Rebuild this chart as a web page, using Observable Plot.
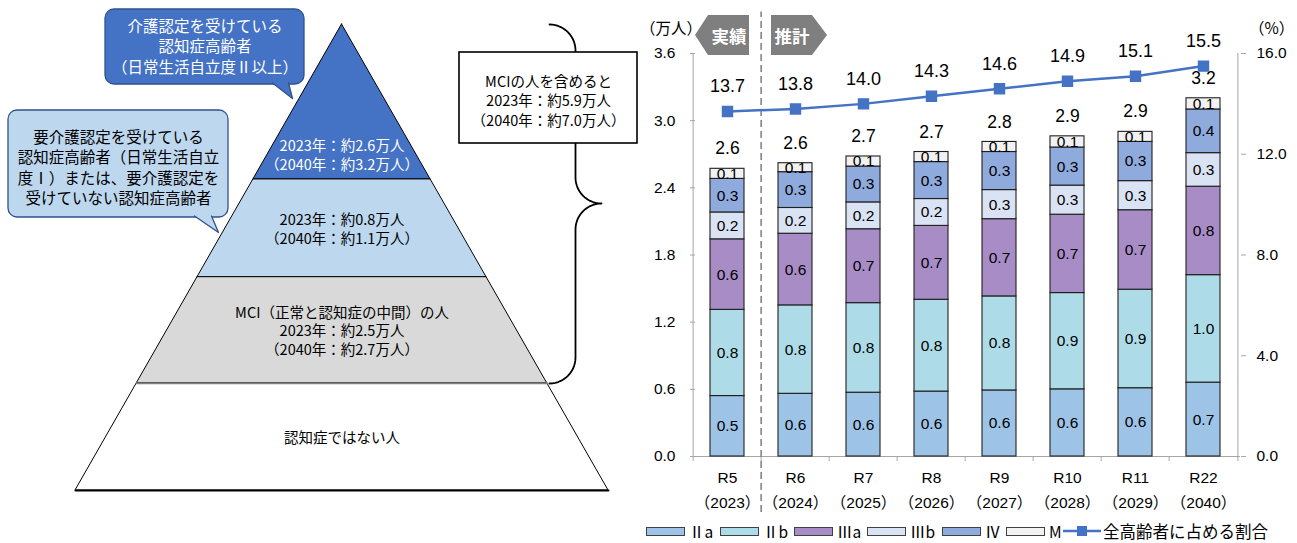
<!DOCTYPE html>
<html><head><meta charset="utf-8">
<script src="https://cdn.jsdelivr.net/npm/d3@7"></script>
<script src="https://cdn.jsdelivr.net/npm/@observablehq/plot@0.6"></script>
<style>
body{margin:0;background:#fff;}
#root{position:relative;width:1297px;height:543px;overflow:hidden;font-family:"Noto Sans CJK JP",sans-serif;color:#000;}
#root svg{position:absolute;top:0;}
.tag{position:absolute;top:15px;height:40px;background:#7f7f7f;color:#fff;font-weight:bold;font-size:17.5px;display:flex;align-items:center;box-sizing:border-box;}
.unit{position:absolute;top:16px;font-size:15.5px;}
.lg{position:absolute;top:523px;height:16px;line-height:16px;white-space:nowrap;font-size:15.5px;}
.lgsw{position:absolute;top:527px;width:37px;height:7px;border:1px solid #404040;}
</style></head><body><div id="root"></div>
<script>
// ---------- data: bar chart ----------
const categories = ["R5", "R6", "R7", "R8", "R9", "R10", "R11", "R22"];
const years = ["2023", "2024", "2025", "2026", "2027", "2028", "2029", "2040"];
const seriesNames = ["Ⅱa", "Ⅱb", "Ⅲa", "Ⅲb", "Ⅳ", "M"];
const valIIa  = [0.54, 0.56, 0.57, 0.58, 0.59, 0.60, 0.61, 0.66];
const valIIb  = [0.77, 0.79, 0.80, 0.82, 0.84, 0.86, 0.88, 0.96];
const valIIIa = [0.63, 0.64, 0.66, 0.66, 0.69, 0.70, 0.71, 0.79];
const valIIIb = [0.24, 0.23, 0.24, 0.24, 0.26, 0.26, 0.26, 0.30];
const valIV   = [0.30, 0.32, 0.32, 0.33, 0.34, 0.34, 0.35, 0.39];
const valM    = [0.09, 0.08, 0.09, 0.09, 0.09, 0.10, 0.09, 0.10];
const ratioPct = [13.7, 13.8, 14.0, 14.3, 14.6, 14.9, 15.1, 15.5];
const leftTicks = [0, 0.6, 1.2, 1.8, 2.4, 3.0, 3.6];
const rightTicks = [0, 4, 8, 12, 16];
const ratioLabel = "全高齢者に占める割合";

// ---------- data: pyramid diagram ----------
const tierTexts = [
  "2023年：約2.6万人\n（2040年：約3.2万人）",
  "2023年：約0.8万人\n（2040年：約1.1万人）",
  "MCI（正常と認知症の中間）の人\n2023年：約2.5万人\n（2040年：約2.7万人）",
  "認知症ではない人"
];
const calloutDark = "介護認定を受けている\n認知症高齢者\n（日常生活自立度Ⅱ以上）";
const calloutLight = "要介護認定を受けている\n認知症高齢者（日常生活自立\n度Ⅰ）または、要介護認定を\n受けていない認知症高齢者";
const mciBoxText = "MCIの人を含めると\n2023年：約5.9万人\n（2040年：約7.0万人）";

// ---------- styles / layout ----------
const seriesColors = ["#9DC3E6", "#ADDCE8", "#A88CC6", "#DAE3F3", "#8FAADC", "#F2F2F2"];
const lineColor = "#4472C4";
const axisColor = "#a6a6a6";
const tierFill = ["#4472C4", "#BDD7EE", "#D9D9D9", "#FFFFFF"];
const tierInk = ["#FFFFFF", "#000000", "#000000", "#000000"];
const tierBreaks = [0, 0.333, 0.543, 0.770, 1];
const tierLabelAt = [0.84, 0.5, 0.5, 0.5];
const pyr = {cx: 341.5, top: 24, bottom: 490, halfBase: 266.5};
const legendSwatchX = [646, 720, 794, 867, 942, 1006];
const legendLineX = 1063;

const root = document.getElementById("root");

// ================= Left diagram =================
const PY = t => pyr.top + t * (pyr.bottom - pyr.top);
const HW = t => pyr.halfBase * t;
const tierMarks = tierFill.map((f, i) => {
  const t0 = tierBreaks[i], t1 = tierBreaks[i + 1];
  const pts = [t0, t1].map(t => ({y: PY(t), x1: pyr.cx - HW(t), x2: pyr.cx + HW(t)}));
  return Plot.areaX(pts, {y: "y", x1: "x1", x2: "x2", fill: f, stroke: "#000", strokeWidth: 1});
});
const tierLabels = tierTexts.map((s, i) => ({
  text: s, x: pyr.cx,
  y: PY(tierBreaks[i] + tierLabelAt[i] * (tierBreaks[i + 1] - tierBreaks[i])),
  ink: tierInk[i]
}));

function arc(cx, cy, r, a0, a1, n = 14) {
  const out = [];
  for (let k = 0; k <= n; k++) {
    const a = (a0 + (a1 - a0) * k / n) * Math.PI / 180;
    out.push({x: cx + r * Math.cos(a), y: cy + r * Math.sin(a)});
  }
  return out;
}
const br = {x: 575, tip: 601, top: 24, mid: 203, bot: 383, r: 26};
const bracePts = [
  ...arc(br.x - br.r, br.top + br.r, br.r, -90, 0),
  ...arc(br.tip, br.mid - br.r, br.r, 180, 90),
  ...arc(br.tip, br.mid + br.r, br.r, -90, -180),
  ...arc(br.x - br.r, br.bot - br.r, br.r, 0, 90)
];

const boxes = {
  dark: {x1: 105, x2: 304, y1: 9, y2: 84, tail: [{x: 272, y: 82.5}, {x: 292, y: 98}, {x: 288, y: 82.5}]},
  light: {x1: 8, x2: 228, y1: 110, y2: 217, tail: [{x: 194, y: 215.5}, {x: 218, y: 232}, {x: 211, y: 215.5}]},
  mci: {x1: 459, x2: 637, y1: 52, y2: 143}
};
const mciLineT = tierBreaks[3];

const diagram = Plot.plot({
  width: 640, height: 543, margin: 0,
  x: {domain: [0, 640], range: [0, 640], axis: null},
  y: {domain: [0, 543], range: [0, 543], axis: null},
  style: {background: "transparent", overflow: "visible", fontFamily: "'Noto Sans CJK JP', sans-serif"},
  marks: [
    ...tierMarks,
    Plot.line([{x: pyr.cx - HW(mciLineT), y: PY(mciLineT)}, {x: pyr.cx + HW(mciLineT), y: PY(mciLineT)}], {x: "x", y: "y", stroke: "#7f7f7f", strokeWidth: 2}),
    Plot.line([{x: pyr.cx - HW(1), y: PY(1)}, {x: pyr.cx + HW(1), y: PY(1)}], {x: "x", y: "y", stroke: "#000", strokeWidth: 2}),
    Plot.text(tierLabels, {x: "x", y: "y", text: "text", fill: "ink", fontSize: 14.5, lineHeight: 1.3}),
    // brace
    Plot.line(bracePts, {x: "x", y: "y", stroke: "#000", strokeWidth: 1.8, fill: "none"}),
    // MCI box
    Plot.rect([boxes.mci], {x1: "x1", x2: "x2", y1: "y1", y2: "y2", fill: "#fff", stroke: "#000", strokeWidth: 1.6}),
    Plot.text([mciBoxText], {x: (boxes.mci.x1 + boxes.mci.x2) / 2, y: 99.5, text: d => d, fontSize: 14.5, lineHeight: 1.34, fill: "#000"}),
    // callouts
    Plot.rect([boxes.dark], {x1: "x1", x2: "x2", y1: "y1", y2: "y2", rx: 9, fill: "#4472C4", stroke: "#2F528F", strokeWidth: 1.3}),
    Plot.line(boxes.dark.tail, {x: "x", y: "y", fill: "#4472C4", stroke: "#2F528F", strokeWidth: 1.3}),
    Plot.text([calloutDark], {x: (boxes.dark.x1 + boxes.dark.x2) / 2, y: 45.5, text: d => d, fontSize: 15.5, lineHeight: 1.3, fill: "#fff"}),
    Plot.rect([boxes.light], {x1: "x1", x2: "x2", y1: "y1", y2: "y2", rx: 9, fill: "#BDD7EE", stroke: "#2F528F", strokeWidth: 1.3}),
    Plot.line(boxes.light.tail, {x: "x", y: "y", fill: "#BDD7EE", stroke: "#2F528F", strokeWidth: 1.3}),
    Plot.text([calloutLight], {x: (boxes.light.x1 + boxes.light.x2) / 2, y: 166.5, text: d => d, fontSize: 15.5, lineHeight: 1.32, fill: "#000"})
  ]
});
diagram.style.left = "0px";
root.appendChild(diagram);

// ================= Right chart =================
const seriesValues = [valIIa, valIIb, valIIIa, valIIIb, valIV, valM];
const rows = [];
categories.forEach((c, i) => seriesNames.forEach((s, j) => rows.push({cat: c, series: s, value: seriesValues[j][i]})));
const totals = categories.map((c, i) => ({cat: c, total: seriesValues.reduce((a, v) => a + v[i], 0)}));
const K = 3.6 / 16;
const ratioRows = categories.map((c, i) => ({cat: c, pct: ratioPct[i]}));
const W = 657, ML = 50, MR = 57;
const step = (W - ML - MR) / categories.length;
const last = categories[categories.length - 1];
const numFont = "'Liberation Sans', Arial, 'Noto Sans CJK JP', sans-serif";

const chart = Plot.plot({
  width: W, height: 543, marginLeft: ML, marginRight: MR, marginTop: 53, marginBottom: 87,
  x: {domain: categories, paddingInner: 0.5, paddingOuter: 0.25, axis: null},
  y: {domain: [0, 3.6], axis: null},
  color: {domain: seriesNames, range: seriesColors},
  style: {background: "transparent", overflow: "visible", fontFamily: numFont, color: "#000"},
  marks: [
    Plot.axisY({anchor: "left", ticks: leftTicks, tickFormat: d => d.toFixed(1), tickSize: -5, tickPadding: 20, fontSize: 15.5, stroke: axisColor, fill: "#000", label: null}),
    Plot.axisY({anchor: "right", ticks: rightTicks.map(v => v * K), tickFormat: d => (d / K).toFixed(1), tickSize: 5, tickPadding: 11, fontSize: 15.5, stroke: axisColor, fill: "#000", label: null}),
    Plot.ruleX([categories[0]], {x: d => d, dx: -step / 2, y1: 0, y2: 3.6, stroke: axisColor}),
    Plot.ruleX([last], {x: d => d, dx: step / 2, y1: 0, y2: 3.6, stroke: axisColor}),
    Plot.ruleY([0], {stroke: axisColor}),
    Plot.ruleX(categories, {x: d => d, dx: -step / 2, y1: 0, y2: -0.045, stroke: axisColor}),
    Plot.ruleX([last], {x: d => d, dx: step / 2, y1: 0, y2: -0.045, stroke: axisColor}),
    Plot.ruleX([categories[1]], {x: d => d, dx: -step / 2, y1: -0.5, y2: 3.97, stroke: "#7f7f7f", strokeWidth: 1.5, strokeDasharray: "7,4"}),
    Plot.barY(rows, Plot.stackY({x: "cat", y: "value", fill: "series", z: "series", order: seriesNames, stroke: "#1f1f1f", strokeWidth: 1.1})),
    Plot.text(rows, Plot.stackY({x: "cat", y: "value", z: "series", order: seriesNames, text: d => d.value.toFixed(1), fontSize: 15.5, fill: "#000"})),
    Plot.text(totals, {x: "cat", y: "total", text: d => d.total.toFixed(1), dy: -20, fontSize: 17.5, fill: "#000"}),
    Plot.line(ratioRows, {x: "cat", y: d => d.pct * K, stroke: lineColor, strokeWidth: 2.5}),
    Plot.dot(ratioRows, {x: "cat", y: d => d.pct * K, symbol: "square", r: 5.6, fill: lineColor, stroke: lineColor}),
    Plot.text(ratioRows, {x: "cat", y: d => d.pct * K, text: d => d.pct.toFixed(1), dy: -25, fontSize: 18, fill: "#000"}),
    Plot.text(categories, {x: d => d, y: 0, dy: 22, text: d => d, fontSize: 15.5, fill: "#000"}),
    Plot.text(categories, {x: d => d, y: 0, dy: 47, text: (d, i) => "（" + years[i] + "）", fontSize: 15.5, fill: "#000"})
  ]
});
chart.style.left = "640px";
root.appendChild(chart);

// ---------- HTML annotations ----------
function el(tag, cls, text, style) {
  const e = document.createElement(tag);
  if (cls) e.className = cls;
  if (text != null) e.textContent = text;
  if (style) Object.assign(e.style, style);
  return e;
}
root.appendChild(el("div", "unit", "（万人）", {left: "640px"}));
root.appendChild(el("div", "unit", "（%）", {left: "1249px"}));
root.appendChild(el("div", "tag", "実績", {left: "695px", width: "54px", paddingLeft: "14px", justifyContent: "center",
  clipPath: "polygon(13px 0, 100% 0, 100% 100%, 13px 100%, 0 50%)"}));
root.appendChild(el("div", "tag", "推計", {left: "771px", width: "56px", paddingRight: "14px", justifyContent: "center",
  clipPath: "polygon(0 0, calc(100% - 15px) 0, 100% 50%, calc(100% - 15px) 100%, 0 100%)"}));

// legend
seriesNames.forEach((s, i) => {
  root.appendChild(el("span", "lgsw", null, {left: legendSwatchX[i] + "px", background: seriesColors[i]}));
  root.appendChild(el("span", "lg", s, {left: (legendSwatchX[i] + 43) + "px"}));
});
const lsvg = document.createElementNS("http://www.w3.org/2000/svg", "svg");
lsvg.setAttribute("width", "38"); lsvg.setAttribute("height", "14");
Object.assign(lsvg.style, {position: "absolute", left: legendLineX + "px", top: "524px"});
lsvg.innerHTML = `<line x1="0" y1="7" x2="38" y2="7" stroke="${lineColor}" stroke-width="2.5"/><rect x="14" y="2" width="10" height="10" fill="${lineColor}"/>`;
root.appendChild(lsvg);
root.appendChild(el("span", "lg", ratioLabel, {left: (legendLineX + 40) + "px", fontSize: "16.5px"}));
</script>
</body></html>
